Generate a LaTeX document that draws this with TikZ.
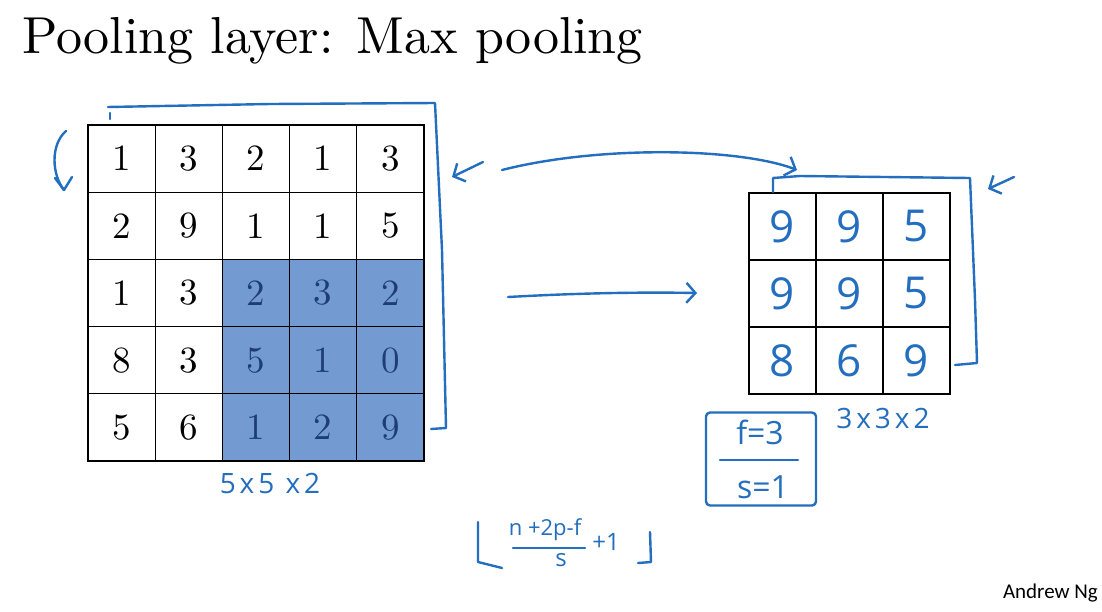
\documentclass[tikz,border=0pt]{standalone}
\usepackage{fontspec}
\setmainfont{lmroman10-regular}[Extension=.otf]
\newfontfamily\handfont{Open Sans}
\newfontfamily\slidefont{Carlito}
\usetikzlibrary{arrows.meta, positioning}
\definecolor{ink}{RGB}{35,110,190}
\definecolor{poolfill}{RGB}{115,155,210}
\definecolor{pooltext}{RGB}{30,60,120}

\begin{document}
\begin{tikzpicture}[x=1pt, y=-1pt, >={Straight Barb[length=9pt,width=20pt]},
  cell/.style={draw, line width=1.2pt, minimum size=67.2pt, inner sep=0pt, font=\fontsize{37}{40}\selectfont},
  pool/.style={cell, fill=poolfill, text=pooltext},
  outcell/.style={draw, line width=1.2pt, minimum size=67pt, inner sep=0pt, text=ink, font=\handfont\fontsize{44}{46}\selectfont},
  pen/.style={ink, line width=2.4pt, line cap=round, line join=round},
  note/.style={text=ink, inner sep=0pt, font=\handfont\addfontfeature{LetterSpace=14}\fontsize{28}{30}\selectfont}]

\fill[white] (0,0) rectangle (1102,611);
\useasboundingbox (0,0) rectangle (1102,611);

% --- Title ---
\node[anchor=base west, inner sep=0pt, font=\fontsize{52}{58}\selectfont] (title) at (22,53) {Pooling layer: Max pooling};

% --- Input 5x5 ---
\node[cell] (a11) at (121.6,158.6) {1}; \node[cell] (a12) at (188.8,158.6) {3}; \node[cell] (a13) at (256.0,158.6) {2}; \node[cell] (a14) at (323.2,158.6) {1}; \node[cell] (a15) at (390.4,158.6) {3};
\node[cell] (a21) at (121.6,225.8) {2}; \node[cell] (a22) at (188.8,225.8) {9}; \node[cell] (a23) at (256.0,225.8) {1}; \node[cell] (a24) at (323.2,225.8) {1}; \node[cell] (a25) at (390.4,225.8) {5};
\node[cell] (a31) at (121.6,293.0) {1}; \node[cell] (a32) at (188.8,293.0) {3}; \node[pool] (a33) at (256.0,293.0) {2}; \node[pool] (a34) at (323.2,293.0) {3}; \node[pool] (a35) at (390.4,293.0) {2};
\node[cell] (a41) at (121.6,360.2) {8}; \node[cell] (a42) at (188.8,360.2) {3}; \node[pool] (a43) at (256.0,360.2) {5}; \node[pool] (a44) at (323.2,360.2) {1}; \node[pool] (a45) at (390.4,360.2) {0};
\node[cell] (a51) at (121.6,427.4) {5}; \node[cell] (a52) at (188.8,427.4) {6}; \node[pool] (a53) at (256.0,427.4) {1}; \node[pool] (a54) at (323.2,427.4) {2}; \node[pool] (a55) at (390.4,427.4) {9};
\node[note] (insize) at (270,483) {5x5 x2};

% bracket and marks round the input
\draw[pen] (110,113) -- (110,119);
\draw[pen] (108,107) -- (270,104) -- (435,103) -- (442,250) -- (446,428) -- (431,429);
\draw[pen] (66,131) .. controls (50,145) and (52,175) .. (64,190);
\draw[pen] (55,178) -- (64,190) -- (72,177);
\draw[pen, ->] (483,162) -- (452,177);

% --- Output 3x3 ---
\node[outcell] (b11) at (782.5,226.5) {9}; \node[outcell] (b12) at (849.5,226.5) {9}; \node[outcell] (b13) at (916.5,226.5) {5};
\node[outcell] (b21) at (782.5,293.5) {9}; \node[outcell] (b22) at (849.5,293.5) {9}; \node[outcell] (b23) at (916.5,293.5) {5};
\node[outcell] (b31) at (782.5,360.5) {8}; \node[outcell] (b32) at (849.5,360.5) {6}; \node[outcell] (b33) at (916.5,360.5) {9};
\node[note] (outsize) at (883,418) {3x3x2};

% bracket and marks round the output
\draw[pen] (773,192) -- (773,178) -- (800,176) -- (970,178) -- (975,300) -- (977,363) -- (955,365);
\draw[pen, ->] (1014,177) -- (988,189);

% arrows between
\coordinate (arcfrom) at (502,170);
\coordinate (arcto) at (797,170);
\draw[pen, ->] (arcfrom) .. controls (600,145) and (740,148) .. (arcto);
\coordinate (poolfrom) at (508,297);
\coordinate (poolto) at (697,293);
\draw[pen, ->] (poolfrom) .. controls (580,293) and (640,292) .. (poolto);

% --- Hyperparameters ---
\node[draw, pen, minimum width=110pt, minimum height=93pt, rounded corners=4pt] (hyper) at (761,459) {};
\node[note, font=\handfont\fontsize{32}{34}\selectfont] (fval) at (760,432) {f=3};
\node[note, font=\handfont\fontsize{32}{34}\selectfont] (sval) at (763,487) {s=1};
\draw[pen] (720,460) -- (798,460);

% output size formula
\node[note, font=\handfont\fontsize{22}{24}\selectfont] (numer) at (545,530) {n +2p-f};
\node[note, font=\handfont\fontsize{24}{26}\selectfont] (denom) at (561,560) {s};
\node[note, font=\handfont\fontsize{24}{26}\selectfont] (plusone) at (606,542) {+1};
\draw[pen] (513,548) -- (585,548);
\draw[pen] (478,522) -- (478,562) -- (502,568);
\draw[pen] (650,532) -- (651,562) -- (638,563);

\node[anchor=base east, inner sep=0pt, font=\slidefont\fontsize{21}{24}\selectfont] (author) at (1098,598) {Andrew Ng};

\end{tikzpicture}
\end{document}
